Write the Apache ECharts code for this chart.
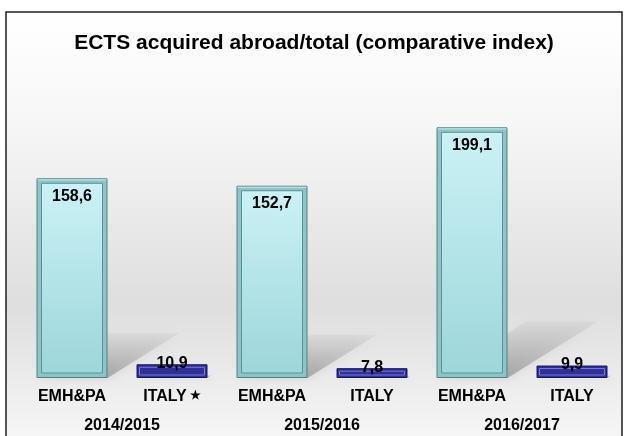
<!DOCTYPE html>
<html>
<head>
<meta charset="utf-8">
<script src="https://cdn.jsdelivr.net/npm/echarts@6/dist/echarts.min.js"></script>
<style>
  html, body { margin: 0; padding: 0; background: #fff; }
  #chart { width: 628px; height: 436px; }
</style>
</head>
<body>
<div id="chart"></div>
<script>
const years = ['2014/2015', '2015/2016', '2016/2017']
const catLabels = ['EMH&PA', 'ITALY*', 'EMH&PA', 'ITALY', 'EMH&PA', 'ITALY']
const emhValues = [158.6, 152.7, 199.1]
const italyValues = [10.9, 7.8, 9.9]

const FONT = 'Liberation Sans, Arial, sans-serif'

// interleave the two series into the six bar slots
const values = []
emhValues.forEach((v, i) => { values.push(v, italyValues[i]) })

const fmt = (v) => String(v).replace('.', ',')

const barData = values.map((v, i) => ({
  value: v,
  itemStyle: i % 2 === 0
    ? { color: '#8ec4c7', borderColor: '#4c8284', borderWidth: 1 }
    : { color: '#2f2f98', borderColor: '#16165c', borderWidth: 1 }
}))
const pairData = values.map((v, i) => [i, v])

const barGeom = (params, api) => {
  const i = api.value(0)
  const v = api.value(1)
  const base = api.coord([i, 0])
  const top = api.coord([i, v])
  const w = api.size([1, 0])[0] * 0.71
  return { i, v, cx: base[0], x0: base[0] - w / 2, x1: base[0] + w / 2, w, yb: base[1], yt: top[1], h: base[1] - top[1] }
}

const renderShadow = (params, api) => {
  const g = barGeom(params, api)
  const dx = g.h * 0.36
  const dy = g.h * 0.225
  return {
    type: 'polygon',
    shape: { points: [[g.x0, g.yb], [g.x1, g.yb], [g.x1 + dx, g.yb - dy], [g.x0 + dx, g.yb - dy]] },
    style: {
      fill: new echarts.graphic.LinearGradient(0, 1, 0, 0, [
        { offset: 0, color: 'rgba(110,110,110,0.5)' },
        { offset: 1, color: 'rgba(150,150,150,0.1)' }
      ]),
      shadowBlur: 12,
      shadowColor: 'rgba(120,120,120,0.4)'
    }
  }
}

const renderInner = (params, api) => {
  const g = barGeom(params, api)
  const emh = g.i % 2 === 0
  const children = []
  if (emh) {
    children.push({
      type: 'rect',
      shape: { x: g.x0 + 5, y: g.yt + 5, width: g.w - 10, height: g.h - 10 },
      style: {
        fill: new echarts.graphic.LinearGradient(0, 0, 0, 1, [
          { offset: 0, color: '#cbf2f6' },
          { offset: 1, color: '#9dd6da' }
        ]),
        stroke: '#5b9294',
        lineWidth: 1
      }
    })
    children.push({
      type: 'line',
      shape: { x1: g.x0 + 1, y1: g.yt + 1.5, x2: g.x1 - 1, y2: g.yt + 1.5 },
      style: { stroke: '#c8eef0', lineWidth: 1 }
    })
  } else {
    children.push({
      type: 'rect',
      shape: { x: g.x0 + 3, y: g.yt + 3, width: g.w - 6, height: g.h - 6 },
      style: { fill: 'none', stroke: '#7b7bd8', lineWidth: 1 }
    })
  }
  children.push({
    type: 'text',
    z2: 50,
    style: {
      text: fmt(g.v),
      x: g.cx,
      y: emh ? g.yt + 18 : g.yt - 1,
      align: 'center',
      verticalAlign: 'middle',
      font: 'bold 16px ' + FONT,
      fill: '#000'
    }
  })
  return { type: 'group', children }
}

const chart = echarts.init(document.getElementById('chart'))

const option = {
  animation: false,
  backgroundColor: '#fff',
  graphic: [{
    type: 'rect',
    z: -10,
    silent: true,
    shape: { x: 6, y: 12, width: 616, height: 430 },
    style: {
      fill: new echarts.graphic.LinearGradient(0, 0, 0, 1, [
        { offset: 0, color: '#ffffff' },
        { offset: 0.25, color: '#f7f7f7' },
        { offset: 0.68, color: '#dedede' },
        { offset: 1, color: '#f7f7f7' }
      ]),
      stroke: '#1e1e1e',
      lineWidth: 1.5
    }
  }],
  title: {
    text: 'ECTS acquired abroad/total (comparative index)',
    left: 'center',
    top: 28,
    textStyle: { fontFamily: FONT, fontSize: 21, fontWeight: 'bold', color: '#000' }
  },
  grid: { left: 22, right: 6, top: 101, bottom: 58 },
  xAxis: [{
    type: 'category',
    data: catLabels,
    axisLine: { show: false },
    axisTick: { show: false },
    axisLabel: {
      interval: 0,
      margin: 11,
      fontFamily: FONT,
      fontSize: 16,
      fontWeight: 'bold',
      color: '#000',
      formatter: (s) => s.endsWith('*') ? s.slice(0, -1) + '{s|★}' : s,
      rich: { s: { fontSize: 12, fontWeight: 'bold', color: '#000', verticalAlign: 'middle', padding: [0, 0, 2, 3] } }
    }
  }, {
    type: 'category',
    data: years,
    position: 'bottom',
    offset: 30,
    axisLine: { show: false },
    axisTick: { show: false },
    axisLabel: { interval: 0, margin: 10, fontFamily: FONT, fontSize: 16, fontWeight: 'bold', color: '#000' }
  }],
  yAxis: { type: 'value', min: 0, max: 220, show: false },
  series: [{
    type: 'custom',
    name: 'shadow',
    z: 1,
    renderItem: renderShadow,
    data: pairData,
    encode: { x: 0, y: 1 },
    silent: true
  }, {
    type: 'bar',
    name: 'bars',
    z: 2,
    barWidth: '71%',
    data: barData
  }, {
    type: 'custom',
    name: 'inner',
    z: 3,
    renderItem: renderInner,
    data: pairData,
    encode: { x: 0, y: 1 },
    silent: true
  }]
}

chart.setOption(option)
</script>
</body>
</html>
